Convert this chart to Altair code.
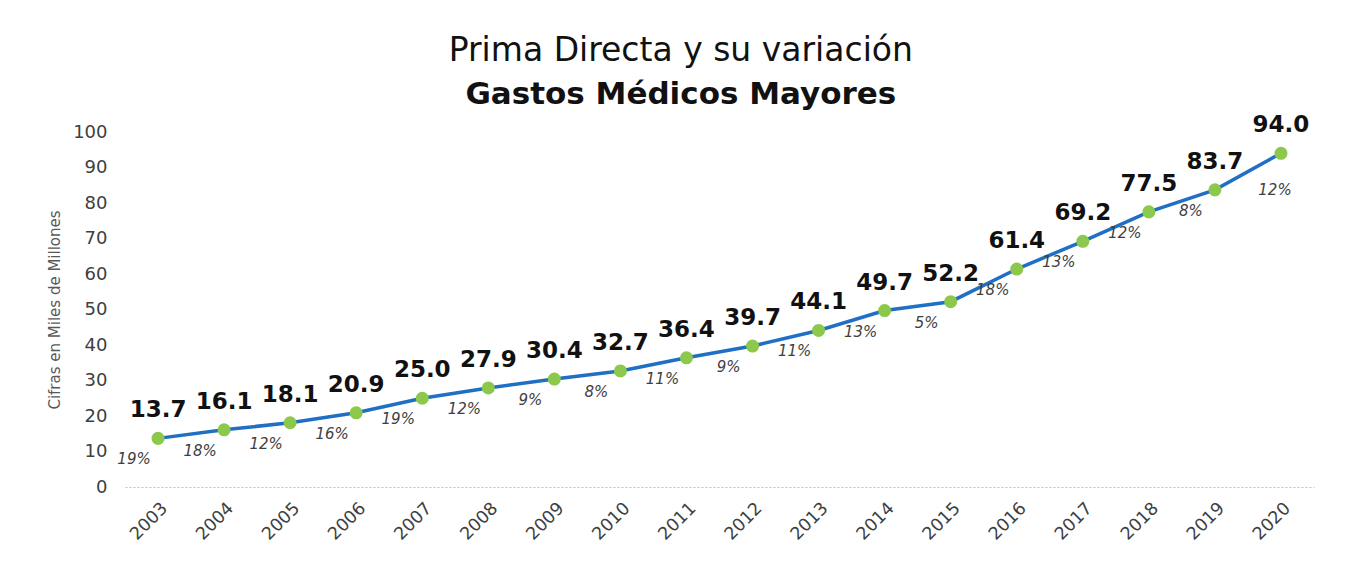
import altair as alt
import pandas as pd

years = [str(y) for y in range(2003, 2021)]
values = [13.7, 16.1, 18.1, 20.9, 25.0, 27.9, 30.4, 32.7, 36.4, 39.7, 44.1, 49.7, 52.2, 61.4, 69.2, 77.5, 83.7, 94.0]
pcts = [19, 18, 12, 16, 19, 12, 9, 8, 11, 9, 11, 13, 5, 18, 13, 12, 8, 12]

df = pd.DataFrame({
    "year": years,
    "value": values,
    "vlabel": [f"{v:.1f}" for v in values],
    "plabel": [f"{p}%" for p in pcts],
})

FONT = "DejaVu Sans"

x = alt.X("year:O", title=None,
          scale=alt.Scale(type="point", padding=0.5),
          axis=alt.Axis(labelAngle=-45, ticks=False, domainColor="#BFBFBF",
                        domainDash=[2, 2], domainWidth=1, labelFontSize=17.5,
                        labelColor="#404040", labelPadding=12, labelFont=FONT))
y = alt.Y("value:Q", title="Cifras en Miles de Millones",
          scale=alt.Scale(domain=[0, 100], nice=False),
          axis=alt.Axis(values=list(range(0, 101, 10)), grid=False, domain=False,
                        ticks=False, labelFontSize=18, labelColor="#404040",
                        labelPadding=18, titleFontSize=15, titleColor="#595959",
                        titleFontWeight="normal", titlePadding=10, labelFont=FONT,
                        titleFont=FONT))

base = alt.Chart(df).encode(x=x, y=y)

line = base.mark_line(color="#1F6FC5", strokeWidth=3.5)
pts = base.mark_circle(color="#8CC84B", size=170, opacity=1)
vtext = base.mark_text(fontSize=23, fontWeight="bold", font=FONT, color="#111111",
                       baseline="bottom", dy=-16).encode(text="vlabel:N")
ptext = base.transform_filter(alt.datum.year != "2020").mark_text(
    fontSize=15, fontStyle="italic", font=FONT, color="#404040",
    baseline="middle", dx=-24, dy=21).encode(text="plabel:N")
ptext2 = base.transform_filter(alt.datum.year == "2020").mark_text(
    fontSize=15, fontStyle="italic", font=FONT, color="#404040",
    baseline="middle", dx=-6, dy=37).encode(text="plabel:N")

chart = alt.layer(line, pts, vtext, ptext, ptext2).properties(
    width=1189, height=355,
    padding={"left": 39, "top": 27, "right": 5, "bottom": 5},
    title=alt.TitleParams(
        text="Prima Directa y su variación",
        subtitle="Gastos Médicos Mayores",
        anchor="middle", frame="bounds",
        font=FONT, fontSize=33, fontWeight="normal", color="#111111",
        subtitleFont=FONT, subtitleFontSize=31, subtitleFontWeight="bold",
        subtitleColor="#111111", subtitlePadding=12, offset=4,
    ),
).configure(background="white").configure_view(stroke=None)

chart.save("out.html", embed_options={"renderer": "svg", "actions": False})
